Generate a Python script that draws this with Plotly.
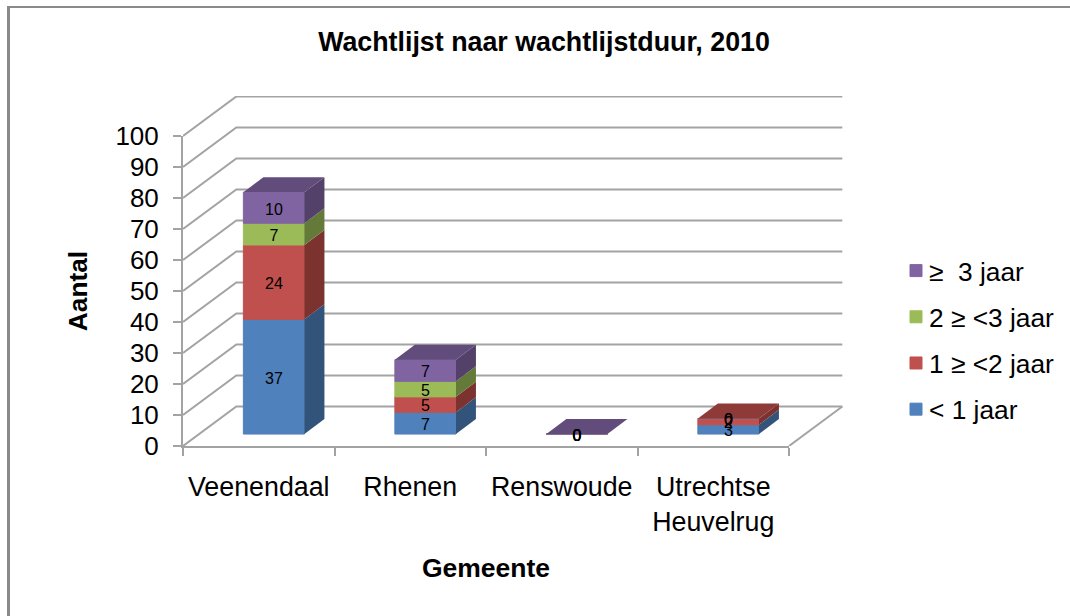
import plotly.graph_objects as go

# ---- data ----
categories = ["Veenendaal", "Rhenen", "Renswoude", "Utrechtse<br>Heuvelrug"]
series_names = ["< 1 jaar", "1 ≥ <2 jaar", "2 ≥ <3 jaar", "≥  3 jaar"]
lt_1 = [37, 7, 0, 3]
y1_2 = [24, 5, 0, 2]
y2_3 = [7, 5, 0, 0]
ge_3 = [10, 7, 0, 0]
y_ticks = list(range(0, 101, 10))

values = [lt_1, y1_2, y2_3, ge_3]
front = ["#4F81BD", "#C0504D", "#9BBB59", "#8064A2"]
side = ["#33547A", "#7C322F", "#647A39", "#53416A"]
top = ["#3B5F8C", "#8E3A38", "#73893F", "#614C7B"]

GREY = "#A3A3A3"
FRAME = "#8A8A8A"
FONT = "Liberation Sans"
N = len(categories)

# plot box in pixels: the wall box and the front axes inside it
L, R, T, B = 183, 843, 96, 446
AX_R, AX_T = 789, 136
W, H = R - L, B - T
X_FRAC, Y_FRAC = (AX_R - L) / W, (B - AX_T) / H

WALL_DX, WALL_DY = 0.352, 12.75      # back wall offset, in axis units
BAR_W, BAR_DX, BAR_DY = 0.403, 0.132, 4.84   # bar width and depth
BAR_SHIFT, BAR_BASE = 0.1, 3.85      # bar position inside the floor

fig = go.Figure()

# walls and floor: on the wider back axes, drawn first
gx, gy = [], []
for v in y_ticks:
    gx += [0, WALL_DX, N + WALL_DX, None]
    gy += [v, v + WALL_DY, v + WALL_DY, None]
gx += [N, N + WALL_DX]
gy += [0, WALL_DY]
fig.add_trace(go.Scatter(x=gx, y=gy, mode="lines", line=dict(color=GREY, width=2),
                         cliponaxis=False, showlegend=False, hoverinfo="skip"))

centers = [i + 0.5 + BAR_SHIFT for i in range(N)]

# front faces
stack = [BAR_BASE] * N
bases = []
for k, (name, vals, col) in enumerate(zip(series_names, values, front)):
    bases.append(list(stack))
    fig.add_trace(go.Bar(x=centers, y=vals, base=bases[-1], width=BAR_W, name=name,
                         marker=dict(color=col, line=dict(width=1, color=col)),
                         legendgroup=name, legendrank=100 - k, xaxis="x2", yaxis="y2"))
    stack = [s + v for s, v in zip(stack, vals)]

# side and top faces
for k, vals in enumerate(values):
    for i, c in enumerate(centers):
        r = c + BAR_W / 2
        l = c - BAR_W / 2
        b, t = bases[k][i], bases[k][i] + vals[i]
        if vals[i] > 0:
            fig.add_trace(go.Scatter(
                x=[r, r + BAR_DX, r + BAR_DX, r, r],
                y=[b, b + BAR_DY, t + BAR_DY, t, b],
                mode="lines", line=dict(width=0), fill="toself", fillcolor=side[k],
                showlegend=False, hoverinfo="skip", xaxis="x2", yaxis="y2"))
        nonzero = [j for j in range(len(values)) if values[j][i] > 0]
        top_k = nonzero[-1] if nonzero else len(values) - 1
        if k == top_k:
            fig.add_trace(go.Scatter(
                x=[l, r, r + BAR_DX, l + BAR_DX, l],
                y=[t, t, t + BAR_DY, t + BAR_DY, t],
                mode="lines", line=dict(width=0), fill="toself", fillcolor=top[k],
                showlegend=False, hoverinfo="skip", xaxis="x2", yaxis="y2"))

# data labels
for k, vals in enumerate(values):
    fig.add_trace(go.Scatter(
        x=centers, y=[b + v / 2 - 0.9 for b, v in zip(bases[k], vals)],
        text=[str(v) for v in vals], mode="text", textposition="middle center",
        textfont=dict(family=FONT, size=16, color="#000000"),
        showlegend=False, hoverinfo="skip", xaxis="x2", yaxis="y2"))


def px_x(p):
    return (p - L) / W


def px_y(p):
    return (B - p) / H


fig.update_layout(
    width=1070, height=616, autosize=False,
    margin=dict(l=L, r=1070 - R, t=T, b=616 - B),
    paper_bgcolor="#FFFFFF", plot_bgcolor="rgba(0,0,0,0)",
    barmode="overlay",
    font=dict(family=FONT, size=26, color="#000000"),
    title=dict(text="Wachtlijst naar wachtlijstduur, 2010", xref="container", yref="container",
               x=544 / 1070, xanchor="center", y=1 - 42 / 616, yanchor="middle",
               font=dict(family=FONT, size=26.8, weight="bold", color="#000000")),
    xaxis=dict(range=[0, N / X_FRAC], visible=False, domain=[0, 1]),
    yaxis=dict(range=[0, 100 / Y_FRAC], visible=False, domain=[0, 1]),
    xaxis2=dict(range=[0, N], domain=[0, X_FRAC], anchor="y2", tickmode="array",
                tickvals=[i + 0.5 for i in range(N)], ticktext=categories,
                ticks="", ticklabelstandoff=16, showgrid=False, zeroline=False,
                showline=True, linecolor=GREY, linewidth=2,
                tickfont=dict(family=FONT, size=26.8),
                minor=dict(tickmode="array", tickvals=list(range(N + 1)),
                           ticks="outside", ticklen=8, tickwidth=2, tickcolor=GREY, showgrid=False),
                title=dict(text="Gemeente", font=dict(family=FONT, size=26.5, weight="bold"), standoff=22)),
    yaxis2=dict(range=[0, 100], domain=[0, Y_FRAC], anchor="x2", tickmode="array", tickvals=y_ticks,
                ticks="outside", ticklen=8, tickwidth=2, tickcolor=GREY, ticklabelstandoff=9,
                showgrid=False, zeroline=False, showline=True, linecolor=GREY, linewidth=2,
                tickfont=dict(family=FONT, size=26),
                title=dict(text="Aantal", font=dict(family=FONT, size=26.3, weight="bold"), standoff=20)),
    legend=dict(xref="container", yref="container", x=889 / 1070, y=1 - 247 / 616,
                xanchor="left", yanchor="top", traceorder="grouped",
                tracegroupgap=9, font=dict(family=FONT, size=26.3), bgcolor="rgba(0,0,0,0)"),
    shapes=[
        dict(type="line", xref="paper", yref="paper", x0=px_x(7), x1=px_x(1070), y0=px_y(7), y1=px_y(7),
             line=dict(color=FRAME, width=2)),
        dict(type="line", xref="paper", yref="paper", x0=px_x(8.5), x1=px_x(8.5), y0=px_y(616), y1=px_y(6),
             line=dict(color=FRAME, width=3)),
    ],
)

fig.write_html(
    "out.html",
    config=dict(displayModeBar=False),
    post_script="document.body.style.margin='0';"
                "document.querySelectorAll('.legendsymbols').forEach(function(s){"
                "s.setAttribute('transform','translate(7,0)');});",
)
